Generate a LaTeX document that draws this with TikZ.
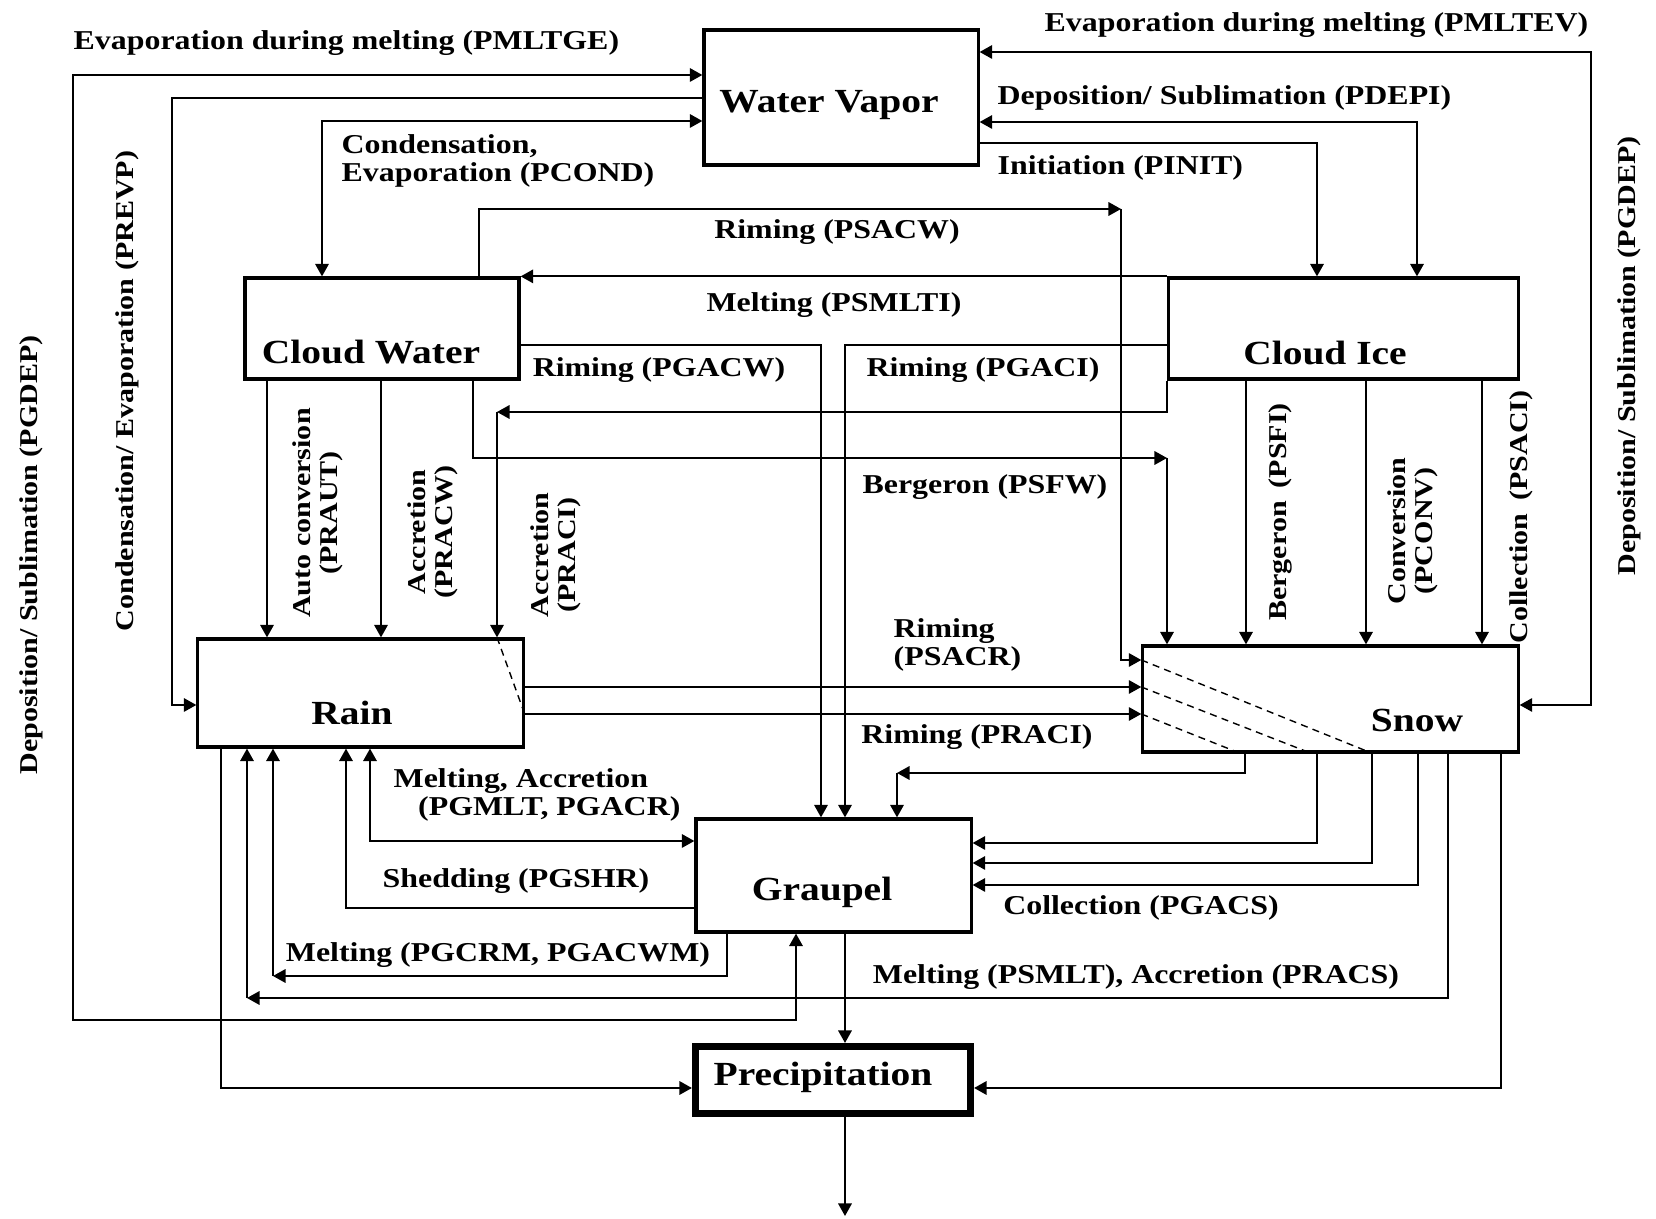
\documentclass[tikz,border=0pt]{standalone}
\usepackage{fontspec}
\setmainfont{Liberation Serif}[FakeStretch=1.17]
\usetikzlibrary{arrows.meta}

\begin{document}
\begin{tikzpicture}[
    x=0.01cm, y=-0.01cm,
    box/.style={draw, line width=0.9pt, inner sep=0pt},
    thickbox/.style={draw, line width=2pt, inner sep=0pt},
    title/.style={font=\fontsize{9.6}{11}\selectfont\bfseries, inner sep=0pt},
    lab/.style={font=\fontsize{7.75}{8}\selectfont\bfseries, inner sep=0pt, align=left},
    vlab/.style={font=\fontsize{7.3}{7.7}\selectfont\bfseries, inner sep=0pt, rotate=90, align=center},
    arrow/.style={-{Triangle[length=1.25mm, width=1.35mm]}, line width=0.5pt},
    both/.style={{Triangle[length=1.25mm, width=1.35mm]}-{Triangle[length=1.25mm, width=1.35mm]}, line width=0.5pt},
    dashline/.style={line width=0.4pt, dash pattern=on 2pt off 1.5pt}
  ]
  \useasboundingbox (0,0) rectangle (1656,1219);

  \node[box, minimum width=2.74cm, minimum height=1.35cm] (wv)      at (841,97.5)   {};
  \node[box, minimum width=2.74cm, minimum height=1.01cm] (cw)      at (382,328.5)  {};
  \node[box, minimum width=3.49cm, minimum height=1.01cm] (ci)      at (1343.5,328.5) {};
  \node[box, minimum width=3.25cm, minimum height=1.08cm] (rain)    at (360.5,693)  {};
  \node[box, minimum width=3.75cm, minimum height=1.06cm] (snow)    at (1330.5,699) {};
  \node[box, minimum width=2.75cm, minimum height=1.13cm] (graupel) at (833.5,875.5) {};
  \node[thickbox, minimum width=2.75cm, minimum height=0.67cm] (precip) at (833,1080) {};

  \node[title] (wvtext)      at (829,105)  {Water Vapor};
  \node[title] (cwtext)      at (371,352)  {Cloud Water};
  \node[title] (citext)      at (1325,353) {Cloud Ice};
  \node[title] (raintext)    at (352,713)  {Rain};
  \node[title] (snowtext)    at (1417,720) {Snow};
  \node[title] (graupeltext) at (822,892)  {Graupel};
  \node[title] (preciptext)  at (823,1077) {Precipitation};

  \draw[both] (graupel.south -| 796,0) |- (73,1020) |- (wv.west |- 0,75);
  \draw[arrow] (wv.west |- 0,98) -| (172,705) -- (rain.west |- 0,705);
  \draw[both] (wv.west |- 0,121) -| (cw.north -| 322,0);
  \draw[both] (wv.east |- 0,122) -| (ci.north -| 1417,0);
  \draw[arrow] (wv.east |- 0,143) -| (ci.north -| 1317,0);
  \draw[both] (snow.east |- 0,705) -| (1591,52) -- (wv.east |- 0,52);

  \coordinate (psacw) at (1121,209);
  \draw[arrow] (cw.north -| 479,0) |- (psacw);
  \draw[arrow] (psacw) |- (snow.west |- 0,660);
  \draw[arrow] (ci.north west) -- (cw.north east);
  \draw[arrow] (cw.east |- 0,345) -| (graupel.north -| 821,0);
  \draw[arrow] (ci.west |- 0,345) -| (graupel.north -| 845,0);

  \coordinate (praci) at (497,412);
  \draw[arrow] (ci.south west) |- (praci);
  \draw[arrow] (praci) -- (rain.north -| 497,0);
  \draw[dashline] (rain.north -| 497,0) -- (rain.east |- 0,714);

  \coordinate (psfw) at (1167,458);
  \draw[arrow] (cw.south -| 473,0) |- (psfw);
  \draw[arrow] (psfw) -- (snow.north -| 1167,0);

  \draw[arrow] (cw.south -| 267,0) -- (rain.north -| 267,0);
  \draw[arrow] (cw.south -| 381,0) -- (rain.north -| 381,0);
  \draw[arrow] (ci.south -| 1246,0) -- (snow.north -| 1246,0);
  \draw[arrow] (ci.south -| 1366,0) -- (snow.north -| 1366,0);
  \draw[arrow] (ci.south -| 1482,0) -- (snow.north -| 1482,0);

  \draw[arrow] (rain.east |- 0,687) -- (snow.west |- 0,687);
  \draw[arrow] (rain.east |- 0,714) -- (snow.west |- 0,714);
  \draw[dashline] (snow.west |- 0,660) -- (snow.south -| 1373,0);
  \draw[dashline] (snow.west |- 0,687) -- (snow.south -| 1312,0);
  \draw[dashline] (snow.west |- 0,714) -- (snow.south -| 1241,0);

  \coordinate (psgr) at (897,773);
  \draw[arrow] (snow.south -| 1245,0) |- (psgr);
  \draw[arrow] (psgr) -- (graupel.north -| 897,0);
  \draw[arrow] (snow.south -| 1317,0) |- (graupel.east |- 0,843);
  \draw[arrow] (snow.south -| 1372,0) |- (graupel.east |- 0,863);
  \draw[arrow] (snow.south -| 1418,0) |- (graupel.east |- 0,885);
  \coordinate (psmlt) at (247,998);
  \draw[arrow] (snow.south -| 1448,0) |- (psmlt);
  \draw[arrow] (psmlt) -- (rain.south -| 247,0);
  \draw[arrow] (snow.south -| 1501,0) |- (precip.east |- 0,1088);

  \draw[arrow] (graupel.south -| 845,0) -- (precip.north -| 845,0);
  \coordinate (out) at (845,1216);
  \draw[arrow] (precip.south -| 845,0) -- (out);
  \draw[arrow] (rain.south -| 221,0) |- (precip.west |- 0,1088);

  \coordinate (pgcrm) at (273,976);
  \draw[arrow] (graupel.south -| 727,0) |- (pgcrm);
  \draw[arrow] (pgcrm) -- (rain.south -| 273,0);
  \draw[arrow] (graupel.west |- 0,908) -| (rain.south -| 346,0);
  \draw[both] (rain.south -| 370,0) |- (graupel.west |- 0,841);

  \node[lab, anchor=west] (pmltge) at (73,43)    {Evaporation during melting (PMLTGE)};
  \node[lab, anchor=east] (pmltev) at (1589,25)  {Evaporation during melting (PMLTEV)};
  \node[lab, anchor=west] (pdepi)  at (997,98)   {Deposition/ Sublimation (PDEPI)};
  \node[lab, anchor=west] (pinit)  at (997,168)  {Initiation (PINIT)};
  \node[lab, anchor=west] (pcond)  at (341,161)  {Condensation,\\Evaporation (PCOND)};
  \node[lab] (psacwlab)  at (837,232)  {Riming (PSACW)};
  \node[lab] (psmltilab) at (834,305)  {Melting (PSMLTI)};
  \node[lab] (pgacw)     at (659,370)  {Riming (PGACW)};
  \node[lab] (pgaci)     at (983,370)  {Riming (PGACI)};
  \node[lab] (psfwlab)   at (985,487)  {Bergeron (PSFW)};
  \node[lab, anchor=west] (psacr) at (893,645) {Riming\\(PSACR)};
  \node[lab] (pracilab)  at (977,737)  {Riming (PRACI)};
  \node[lab, anchor=west] (pgmlt) at (393,795) {Melting, Accretion\\\hspace{0.9em}(PGMLT, PGACR)};
  \node[lab] (pgshr)     at (516,881)  {Shedding (PGSHR)};
  \node[lab] (pgcrmlab)  at (498,955)  {Melting (PGCRM, PGACWM)};
  \node[lab] (pgacs)     at (1141,908) {Collection (PGACS)};
  \node[lab] (pracs)     at (1136,977) {Melting (PSMLT), Accretion (PRACS)};

  \node[vlab] (praut)  at (318,513)  {Auto conversion\\(PRAUT)};
  \node[vlab] (pracw)  at (433,532)  {Accretion\\(PRACW)};
  \node[vlab] (pracr)  at (556,555)  {Accretion\\(PRACI)};
  \node[vlab] (psfi)   at (1280,512) {Bergeron\enspace(PSFI)};
  \node[vlab] (pconv)  at (1413,531) {Conversion\\(PCONV)};
  \node[vlab] (psaci)  at (1521,517) {Collection\enspace(PSACI)};
  \node[vlab] (pgdepr) at (1629,356) {Deposition/ Sublimation (PGDEP)};
  \node[vlab] (pgdepl) at (31,555)   {Deposition/ Sublimation (PGDEP)};
  \node[vlab] (prevp)  at (127,391)  {Condensation/ Evaporation (PREVP)};
\end{tikzpicture}
\end{document}
